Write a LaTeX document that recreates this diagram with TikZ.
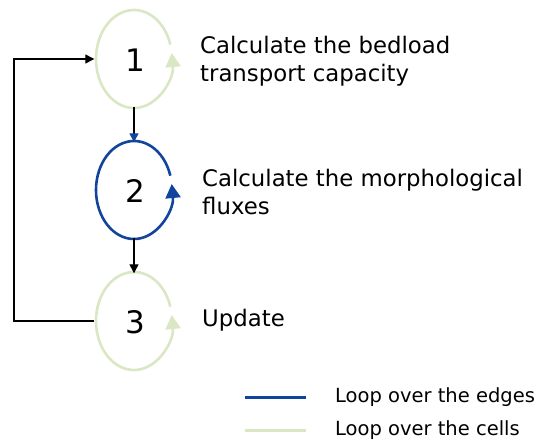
\documentclass[tikz,border=0pt]{standalone}
\usepackage{fontspec}
\setmainfont{DejaVu Sans}
\usetikzlibrary{arrows.meta,shapes.geometric}
\definecolor{edgeblue}{RGB}{18,68,158}
\definecolor{cellgreen}{RGB}{217,231,196}
\tikzset{
  stage/.style={shape=ellipse,inner sep=0pt,minimum width=76pt,minimum height=98pt},
  digit/.style={inner sep=0pt,font=\fontsize{31}{34}\selectfont},
  loopline/.style={line width=2.6pt,-{Triangle[length=14pt,width=15pt]}},
  label/.style={anchor=west,align=left,inner sep=0pt,font=\fontsize{22.8}{28.5}\selectfont},
  legend/.style={anchor=west,inner sep=0pt,font=\fontsize{19.5}{24}\selectfont},
  conn/.style={line width=1.3pt,-{Triangle[length=9pt,width=9pt]}}
}
\begin{document}
\begin{tikzpicture}[x=1pt,y=-1pt]
\useasboundingbox (0,0) rectangle (535,441);
\node[stage] (e1) at (134,59) {};
\node[stage] (e2) at (134,190) {};
\node[stage] (e3) at (134,321) {};
\node[digit] (d1) at (135.5,60) {1};
\node[digit] (d2) at (135.5,191) {2};
\node[digit] (d3) at (135.5,322) {3};
\draw[loopline,cellgreen] ([shift={(17:38pt and 49pt)}]e1.center) arc[start angle=17,end angle=367,x radius=38pt,y radius=49pt];
\draw[loopline,edgeblue] ([shift={(17:38pt and 49pt)}]e2.center) arc[start angle=17,end angle=367,x radius=38pt,y radius=49pt];
\draw[loopline,cellgreen] ([shift={(17:38pt and 49pt)}]e3.center) arc[start angle=17,end angle=367,x radius=38pt,y radius=49pt];
\node[label] (t1) at (200,61) {Calculate the bedload\\transport capacity};
\node[label] (t2) at (202,192) {Calculate the morphological\\fluxes};
\node[label] (t3) at (202,320) {Update};
\draw[conn,-{Triangle[length=9pt,width=9pt,color=edgeblue]}] ([yshift=1.5pt]e1.south) -- ([yshift=-1.5pt]e2.north);
\draw[conn] ([yshift=1.5pt]e2.south) -- ([yshift=-1.5pt]e3.north);
\coordinate (fb) at (14,321);
\draw[conn] ([xshift=-1.5pt]e3.west) -- (fb) |- ([xshift=-1.5pt]e1.west);
\coordinate (l1a) at (245,397); \coordinate (l1b) at (306,397);
\coordinate (l2a) at (245,430); \coordinate (l2b) at (306,430);
\draw[edgeblue,line width=3pt] (l1a) -- (l1b);
\draw[cellgreen,line width=3pt] (l2a) -- (l2b);
\node[legend] (g1) at (335,397) {Loop over the edges};
\node[legend] (g2) at (335,430) {Loop over the cells};
\end{tikzpicture}
\end{document}
